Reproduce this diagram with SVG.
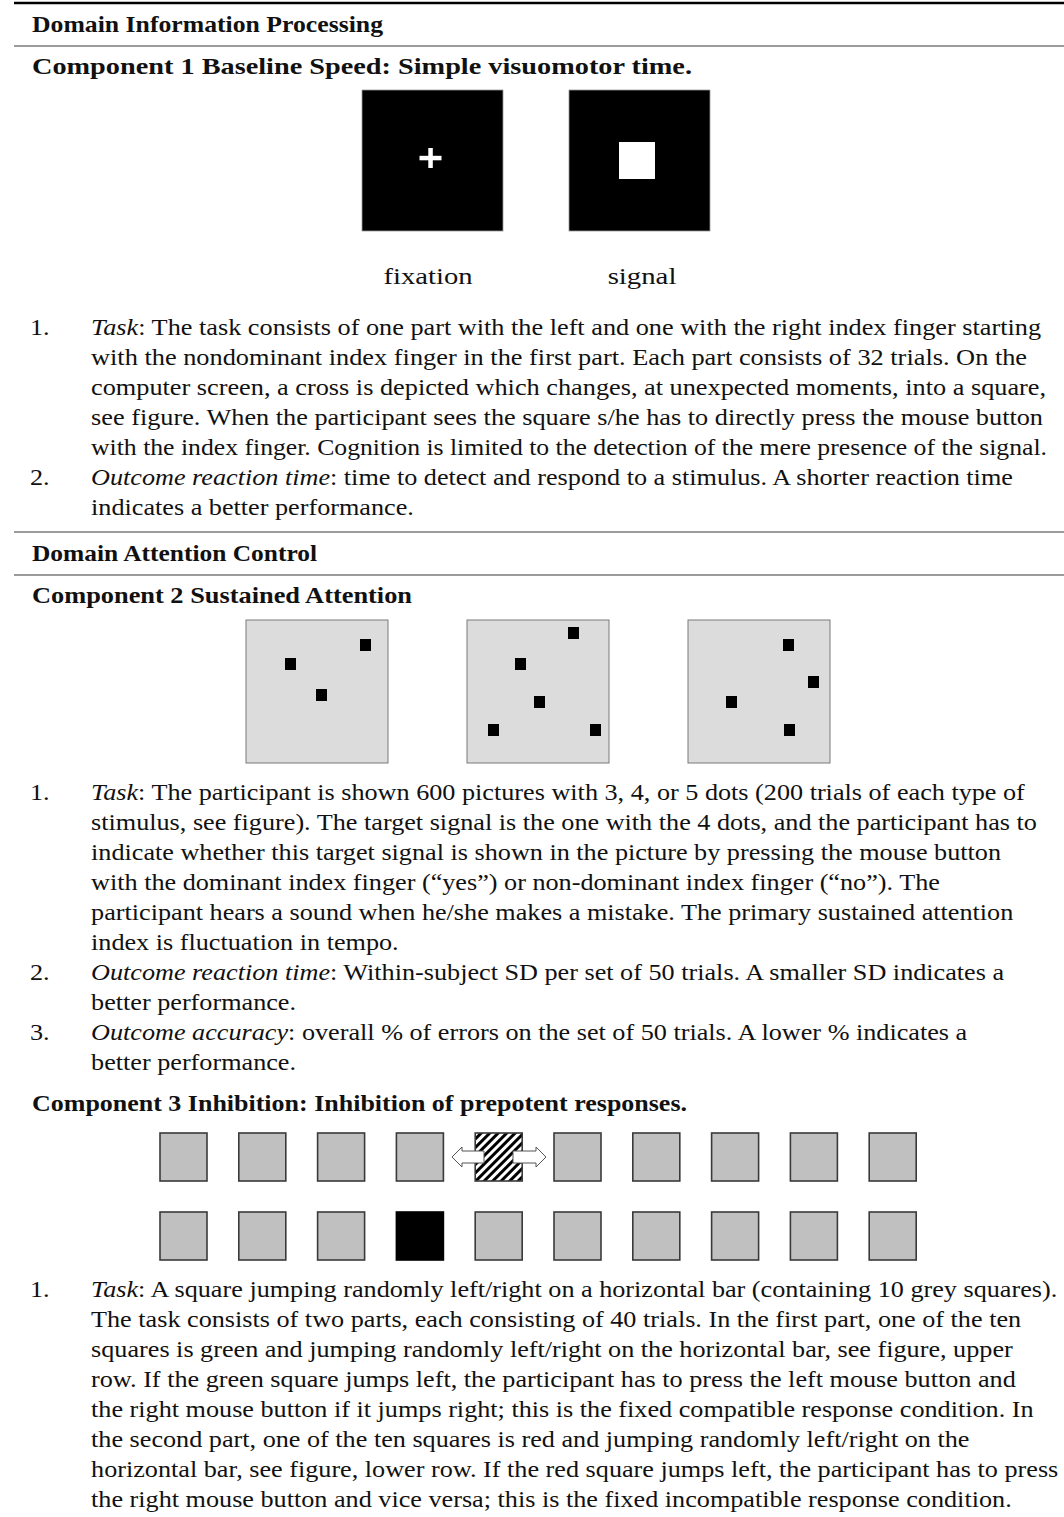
<svg xmlns="http://www.w3.org/2000/svg" width="1064" height="1517" viewBox="0 0 1064 1517">
<style>
.h{font-family:"Liberation Serif","Times New Roman",serif;font-weight:bold;font-size:24px;fill:#111}
.b{font-family:"Liberation Serif","Times New Roman",serif;font-size:24px;fill:#111}
.i{font-style:italic}
.rule{stroke:#7a7a7a;stroke-width:1.6}
.panel{fill:#dcdcdc;stroke:#7a7a7a;stroke-width:1}
.sq{fill:#c0c0c0;stroke:#3a3a3a;stroke-width:1.6}
.arr{fill:#fff;stroke:#555;stroke-width:1}
</style>
<defs>
<pattern id="hatch" width="6" height="6" patternUnits="userSpaceOnUse" patternTransform="rotate(45)">
<rect width="6" height="6" fill="#fff"/><rect width="3" height="6" fill="#000"/>
</pattern>
</defs>
<rect width="1064" height="1517" fill="#fff"/>
<line x1="14" y1="3" x2="1064" y2="3" stroke="#000" stroke-width="2.5"/>
<line class="rule" x1="14" y1="46" x2="1064" y2="46"/>
<line class="rule" x1="14" y1="532" x2="1064" y2="532"/>
<line class="rule" x1="14" y1="575" x2="1064" y2="575"/>

<g id="headings">
<text class="h" x="32" y="32" textLength="351" lengthAdjust="spacingAndGlyphs">Domain Information Processing</text>
<text class="h" x="32" y="74" textLength="660" lengthAdjust="spacingAndGlyphs">Component 1 Baseline Speed: Simple visuomotor time.</text>
<text class="h" x="32" y="561" textLength="285" lengthAdjust="spacingAndGlyphs">Domain Attention Control</text>
<text class="h" x="32" y="603" textLength="380" lengthAdjust="spacingAndGlyphs">Component 2 Sustained Attention</text>
<text class="h" x="32" y="1111" textLength="655" lengthAdjust="spacingAndGlyphs">Component 3 Inhibition: Inhibition of prepotent responses.</text>
</g>

<g id="fig1">
<rect x="362" y="90" width="141" height="141" fill="#000" stroke="#999" stroke-width="0.8"/>
<rect x="419.5" y="155.8" width="22" height="4.5" fill="#fff"/>
<rect x="428.3" y="148" width="4.5" height="20" fill="#fff"/>
<rect x="569" y="90" width="141" height="141" fill="#000" stroke="#999" stroke-width="0.8"/>
<rect x="619" y="142" width="36" height="37" fill="#fff"/>
</g>

<g id="fig2">
<rect class="panel" x="246" y="620" width="142" height="143"/>
<rect class="panel" x="467" y="620" width="142" height="143"/>
<rect class="panel" x="688" y="620" width="142" height="143"/>
<g fill="#000">
<rect x="360" y="639" width="11" height="12"/>
<rect x="285" y="658" width="11" height="12"/>
<rect x="316" y="689" width="11" height="12"/>
<rect x="568" y="627" width="11" height="12"/>
<rect x="515" y="658" width="11" height="12"/>
<rect x="534" y="696" width="11" height="12"/>
<rect x="488" y="724" width="11" height="12"/>
<rect x="590" y="724" width="11" height="12"/>
<rect x="783" y="639" width="11" height="12"/>
<rect x="808" y="676" width="11" height="12"/>
<rect x="726" y="696" width="11" height="12"/>
<rect x="784" y="724" width="11" height="12"/>
</g>
</g>

<g id="fig3">
<rect class="sq" x="160" y="1133" width="47" height="48"/>
<rect class="sq" x="238.8" y="1133" width="47" height="48"/>
<rect class="sq" x="317.6" y="1133" width="47" height="48"/>
<rect class="sq" x="396.4" y="1133" width="47" height="48"/>
<rect x="475.2" y="1133" width="47" height="48" fill="url(#hatch)" stroke="#3a3a3a" stroke-width="1.6"/>
<rect class="sq" x="554" y="1133" width="47" height="48"/>
<rect class="sq" x="632.8" y="1133" width="47" height="48"/>
<rect class="sq" x="711.6" y="1133" width="47" height="48"/>
<rect class="sq" x="790.4" y="1133" width="47" height="48"/>
<rect class="sq" x="869.2" y="1133" width="47" height="48"/>
<polygon class="arr" points="452,1157 462,1147 462,1151 484,1151 484,1163 462,1163 462,1167"/>
<polygon class="arr" points="546,1157 536,1147 536,1151 513,1151 513,1163 536,1163 536,1167"/>
<rect class="sq" x="160" y="1212" width="47" height="48"/>
<rect class="sq" x="238.8" y="1212" width="47" height="48"/>
<rect class="sq" x="317.6" y="1212" width="47" height="48"/>
<rect x="396.4" y="1212" width="47" height="48" fill="#000" stroke="#000" stroke-width="1.6"/>
<rect class="sq" x="475.2" y="1212" width="47" height="48"/>
<rect class="sq" x="554" y="1212" width="47" height="48"/>
<rect class="sq" x="632.8" y="1212" width="47" height="48"/>
<rect class="sq" x="711.6" y="1212" width="47" height="48"/>
<rect class="sq" x="790.4" y="1212" width="47" height="48"/>
<rect class="sq" x="869.2" y="1212" width="47" height="48"/>
</g>

<g id="body" transform="scale(1.0917 1)">
<text class="b" x="392.1" y="284" text-anchor="middle" font-size="26" textLength="81.5" lengthAdjust="spacingAndGlyphs">fixation</text>
<text class="b" x="588.1" y="284" text-anchor="middle" font-size="26" textLength="63" lengthAdjust="spacingAndGlyphs">signal</text>

<text class="b" x="27.5" y="335">1.</text>
<text class="b" x="83.4" y="335" textLength="870.2" lengthAdjust="spacingAndGlyphs"><tspan class="i">Task</tspan>: The task consists of one part with the left and one with the right index finger starting</text>
<text class="b" x="83.4" y="365" textLength="857.4" lengthAdjust="spacingAndGlyphs">with the nondominant index finger in the first part. Each part consists of 32 trials. On the</text>
<text class="b" x="83.4" y="395" textLength="874.8" lengthAdjust="spacingAndGlyphs">computer screen, a cross is depicted which changes, at unexpected moments, into a square,</text>
<text class="b" x="83.4" y="425" textLength="872" lengthAdjust="spacingAndGlyphs">see figure. When the participant sees the square s/he has to directly press the mouse button</text>
<text class="b" x="83.4" y="455" textLength="875.7" lengthAdjust="spacingAndGlyphs">with the index finger. Cognition is limited to the detection of the mere presence of the signal.</text>
<text class="b" x="27.5" y="485">2.</text>
<text class="b" x="83.4" y="485"><tspan class="i">Outcome reaction time</tspan>: time to detect and respond to a stimulus. A shorter reaction time</text>
<text class="b" x="83.4" y="515">indicates a better performance.</text>

<text class="b" x="27.5" y="800">1.</text>
<text class="b" x="83.4" y="800"><tspan class="i">Task</tspan>: The participant is shown 600 pictures with 3, 4, or 5 dots (200 trials of each type of</text>
<text class="b" x="83.4" y="830">stimulus, see figure). The target signal is the one with the 4 dots, and the participant has to</text>
<text class="b" x="83.4" y="860">indicate whether this target signal is shown in the picture by pressing the mouse button</text>
<text class="b" x="83.4" y="890">with the dominant index finger (“yes”) or non-dominant index finger (“no”). The</text>
<text class="b" x="83.4" y="920">participant hears a sound when he/she makes a mistake. The primary sustained attention</text>
<text class="b" x="83.4" y="950">index is fluctuation in tempo.</text>
<text class="b" x="27.5" y="980">2.</text>
<text class="b" x="83.4" y="980"><tspan class="i">Outcome reaction time</tspan>: Within-subject SD per set of 50 trials. A smaller SD indicates a</text>
<text class="b" x="83.4" y="1010">better performance.</text>
<text class="b" x="27.5" y="1040">3.</text>
<text class="b" x="83.4" y="1040"><tspan class="i">Outcome accuracy</tspan>: overall % of errors on the set of 50 trials. A lower % indicates a</text>
<text class="b" x="83.4" y="1070">better performance.</text>

<text class="b" x="27.5" y="1297">1.</text>
<text class="b" x="83.4" y="1297"><tspan class="i">Task</tspan>: A square jumping randomly left/right on a horizontal bar (containing 10 grey squares).</text>
<text class="b" x="83.4" y="1327">The task consists of two parts, each consisting of 40 trials. In the first part, one of the ten</text>
<text class="b" x="83.4" y="1357">squares is green and jumping randomly left/right on the horizontal bar, see figure, upper</text>
<text class="b" x="83.4" y="1387">row. If the green square jumps left, the participant has to press the left mouse button and</text>
<text class="b" x="83.4" y="1417">the right mouse button if it jumps right; this is the fixed compatible response condition. In</text>
<text class="b" x="83.4" y="1447">the second part, one of the ten squares is red and jumping randomly left/right on the</text>
<text class="b" x="83.4" y="1477">horizontal bar, see figure, lower row. If the red square jumps left, the participant has to press</text>
<text class="b" x="83.4" y="1507">the right mouse button and vice versa; this is the fixed incompatible response condition.</text>
</g>
</svg>
